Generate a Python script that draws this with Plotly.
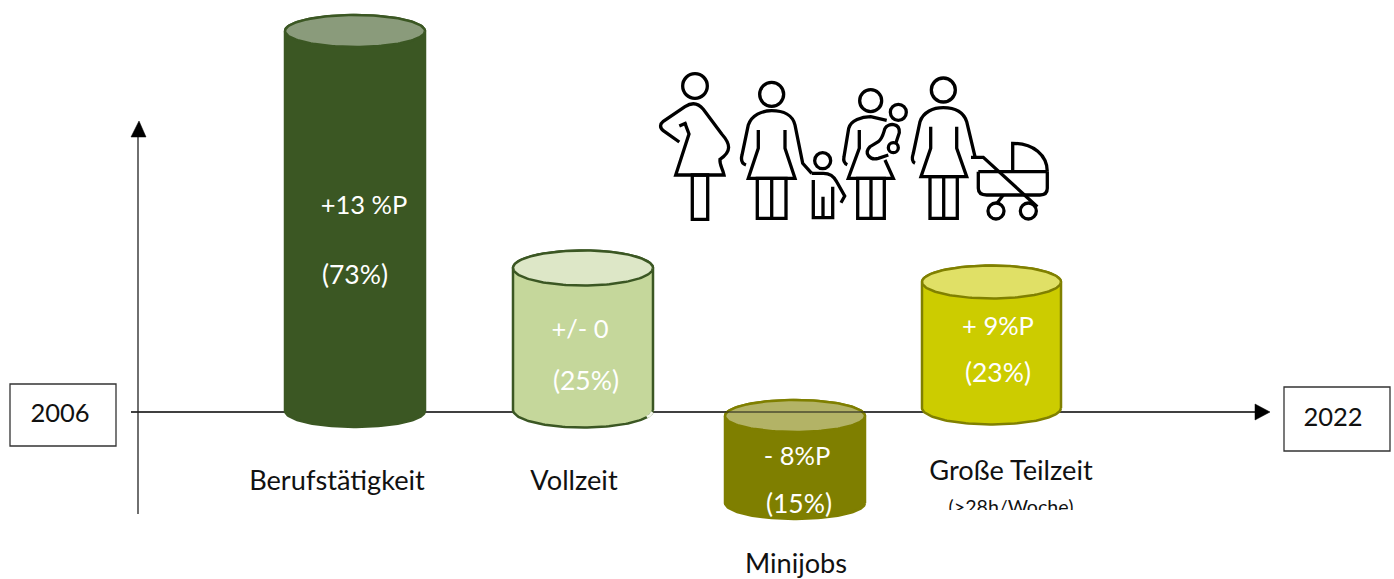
import numpy as np
import plotly.graph_objects as go

# ---- data ----
categories = ["Berufstätigkeit", "Vollzeit", "Minijobs", "Große Teilzeit"]
changes = ["+13 %P", "+/- 0", "- 8%P", "+ 9%P"]
shares = ["(73%)", "(25%)", "(15%)", "(23%)"]
start_year = "2006"
end_year = "2022"
sub_label = "(>28h/Woche)"

# cylinder extents on the page scale
cyl_left = [285, 513, 725, 922]
cyl_right = [425, 653, 865, 1061]
cyl_top = [31, 268, 416, 282]
cyl_bottom = [411, 410, 503, 408]
cyl_ry = [16, 17.5, 16, 16.5]
body_colors = ["#3B5723", "#C5D79B", "#7F7F00", "#CCCC00"]
cap_colors = ["#8A9B7B", "#DDE7C7", "#B3B366", "#E0E066"]
edge_colors = ["#3B5723", "#3B5723", "#7F7F00", "#808000"]

change_pos = [(364, 208), (580, 332), (797, 459), (998, 329)]
share_pos = [(355, 277), (586, 383), (799, 506), (998, 375)]
label_pos = [(337, 483), (574, 483), (796, 566), (1011, 473)]

FONT = "Lato, Carlito, Calibri, sans-serif"
W, H = 1394, 579
CLIP_Y = 510

fig = go.Figure()


def cylinder(i):
    cx = (cyl_left[i] + cyl_right[i]) / 2
    rx = (cyl_right[i] - cyl_left[i]) / 2
    t = np.linspace(0, np.pi, 80)
    bx = cx + rx * np.cos(t)
    by = cyl_bottom[i] + cyl_ry[i] * np.sin(t)
    tx = cx - rx * np.cos(t)
    ty = cyl_top[i] - cyl_ry[i] * np.sin(t)
    fig.add_trace(go.Scatter(
        x=np.r_[bx, tx, bx[0]], y=np.r_[by, ty, by[0]], mode="lines", fill="toself",
        fillcolor=body_colors[i], line=dict(color=edge_colors[i], width=2.5),
        hoverinfo="skip", showlegend=False))
    t2 = np.linspace(0, 2 * np.pi, 160)
    fig.add_trace(go.Scatter(
        x=cx + rx * np.cos(t2), y=cyl_top[i] + cyl_ry[i] * np.sin(t2), mode="lines", fill="toself",
        fillcolor=cap_colors[i], line=dict(color=edge_colors[i], width=2.5),
        hoverinfo="skip", showlegend=False))


# axis lines
fig.add_trace(go.Scatter(x=[131, 1258], y=[412, 412], mode="lines",
                         line=dict(color="#000", width=1.3), hoverinfo="skip", showlegend=False))
fig.add_trace(go.Scatter(x=[138, 138], y=[514, 135], mode="lines",
                         line=dict(color="#222", width=1.3), hoverinfo="skip", showlegend=False))
for i in range(4):
    cylinder(i)
# axis seen through the translucent Minijobs cap
fig.add_trace(go.Scatter(x=[cyl_left[2], cyl_right[2]], y=[412, 412], mode="lines",
                         line=dict(color="rgba(40,40,30,0.75)", width=1.3),
                         hoverinfo="skip", showlegend=False))
# small light notch in the Vollzeit outline, lower right
notch = np.linspace(0.12, 0.42, 12)
fig.add_trace(go.Scatter(
    x=(cyl_left[1] + cyl_right[1]) / 2 + (cyl_right[1] - cyl_left[1]) / 2 * np.cos(notch),
    y=cyl_bottom[1] + cyl_ry[1] * np.sin(notch), mode="lines",
    line=dict(color="#F4F7EC", width=2.6), hoverinfo="skip", showlegend=False))

# value labels
fig.add_trace(go.Scatter(
    x=[p[0] for p in change_pos], y=[p[1] for p in change_pos], text=changes, mode="text",
    textposition="middle center", textfont=dict(family=FONT, size=25.5, color="white"),
    hoverinfo="skip", showlegend=False))
fig.add_trace(go.Scatter(
    x=[p[0] for p in share_pos], y=[p[1] for p in share_pos], text=shares, mode="text",
    textposition="middle center", textfont=dict(family=FONT, size=26.5, color="white"),
    hoverinfo="skip", showlegend=False))
# category labels
fig.add_trace(go.Scatter(
    x=[p[0] for p in label_pos], y=[p[1] for p in label_pos], text=categories, mode="text",
    textposition="middle center", textfont=dict(family=FONT, size=27.2, color="#111"),
    hoverinfo="skip", showlegend=False))
fig.add_trace(go.Scatter(
    x=[60, 1333], y=[416, 420], text=[start_year, end_year], mode="text",
    textposition="middle center", textfont=dict(family=FONT, size=25.5, color="#111"),
    hoverinfo="skip", showlegend=False))
# clipped sub label, on its own axes that stop at the clipping edge
fig.add_trace(go.Scatter(
    x=[1011], y=[509], text=[sub_label], mode="text", xaxis="x2", yaxis="y2", cliponaxis=True,
    textposition="middle center", textfont=dict(family=FONT, size=19.6, color="#111"),
    hoverinfo="skip", showlegend=False))

shapes = []
LINE = dict(color="black", width=3.3)


def ix(v):
    return v / 3 + 640


def iy(v):
    return v / 3 + 60


def path(points):
    """points: tokens in the zoomed pictogram space, turned into page coordinates."""
    out = []
    for tok in points.split():
        if "," in tok:
            a, b = tok.split(",")
            out.append(f"{ix(float(a)):.1f},{iy(float(b)):.1f}")
        else:
            out.append(tok)
    shapes.append(dict(type="path", path=" ".join(out), xref="x", yref="y", line=LINE,
                       fillcolor="rgba(0,0,0,0)", layer="above"))


def circle(cx, cy, r):
    shapes.append(dict(type="circle", x0=ix(cx - r), x1=ix(cx + r), y0=iy(cy - r), y1=iy(cy + r),
                       xref="x", yref="y", line=LINE, fillcolor="rgba(0,0,0,0)", layer="above"))


def rect(x0, y0, x1, y1):
    path(f"M {x0},{y0} L {x1},{y0} L {x1},{y1} L {x0},{y1} Z")


# pregnant woman
circle(165, 78, 37)
path("M 118,246 L 70,212 C 58,202 60,192 70,184 L 135,140 C 155,127 175,130 190,148 "
     "L 245,222 C 272,252 275,275 240,298 C 238,315 248,325 252,345 L 107,345 L 147,222 "
     "L 135,190 M 118,198 L 140,188")
rect(157, 345, 203, 478)
# woman with child
circle(395, 103, 36)
path("M 318,315 C 304,310 302,300 306,285 L 325,195 C 335,165 365,152 395,152 "
     "C 430,152 458,165 465,195 L 488,310 L 515,340")
path("M 355,210 L 355,265 L 325,355 L 465,355 L 435,265 L 435,210")
rect(352, 355, 438, 475)
path("M 395,355 L 395,475")
circle(548, 302, 24)
path("M 515,340 L 550,340 C 575,340 585,355 590,365 L 614,408 L 603,428")
path("M 520,360 L 520,473 L 578,473 L 578,380 M 549,410 L 549,473")
# woman with baby
circle(692, 122, 33)
path("M 622,314 C 612,310 610,300 612,290 L 626,205 C 632,180 665,170 692,170 L 740,181")
path("M 658,210 L 658,265 L 625,355 L 760,355 L 735,300")
rect(653, 355, 733, 475)
path("M 693,355 L 693,475")
circle(775, 157, 24)
circle(760, 263, 15)
path("M 735,205 C 745,188 780,188 778,218 L 768,248 M 745,285 L 715,295 C 690,302 670,280 690,260 "
     "L 715,245 C 728,235 730,220 735,205")
# woman with stroller
circle(910, 90, 36)
path("M 825,310 C 815,305 815,295 820,280 L 840,185 C 850,155 880,143 910,143 "
     "C 945,143 970,155 980,185 L 1005,290")
path("M 872,200 L 872,265 L 843,350 L 980,350 L 950,265 L 950,200")
rect(870, 350, 952, 475)
path("M 911,350 L 911,475")
path("M 993,292 L 1030,292 L 1192,440")
path("M 1015,335 L 1222,335 M 1015,335 L 1015,385 C 1015,400 1025,405 1040,405 L 1200,405 "
     "C 1215,405 1222,398 1222,385 L 1222,335")
path("M 1118,335 L 1118,250 C 1180,250 1222,285 1222,335")
path("M 1090,405 L 1072,428")
circle(1068, 453, 24)
circle(1165, 453, 24)

# year boxes
for x0, y0, x1, y1 in [(10, 384, 116, 446), (1284, 387, 1390, 451)]:
    shapes.append(dict(type="rect", x0=x0, x1=x1, y0=y0, y1=y1, xref="x", yref="y",
                       line=dict(color="#333", width=1.3), fillcolor="white", layer="below"))
# arrow heads
shapes.append(dict(type="path", path="M 1255,404 L 1270,412 L 1255,420 Z", xref="x", yref="y",
                   line=dict(color="#000", width=0.5), fillcolor="#000", layer="above"))
shapes.append(dict(type="path", path="M 131,137 L 139,121 L 146,137 Z", xref="x", yref="y",
                   line=dict(color="#000", width=0.5), fillcolor="#000", layer="above"))

axis = dict(visible=False, fixedrange=True)
fig.update_layout(
    width=W, height=H, margin=dict(l=0, r=0, t=0, b=0), paper_bgcolor="white",
    plot_bgcolor="rgba(0,0,0,0)", showlegend=False, shapes=shapes,
    xaxis=dict(range=[0, W], domain=[0, 1], **axis),
    yaxis=dict(range=[H, 0], domain=[0, 1], **axis),
    xaxis2=dict(range=[0, W], domain=[0, 1], anchor="y2", **axis),
    yaxis2=dict(range=[CLIP_Y, 0], domain=[(H - CLIP_Y) / H, 1], anchor="x2", **axis),
)
fig.write_html("out.html", config=dict(displayModeBar=False),
               post_script="document.body.style.margin='0';document.body.style.overflow='hidden';")
